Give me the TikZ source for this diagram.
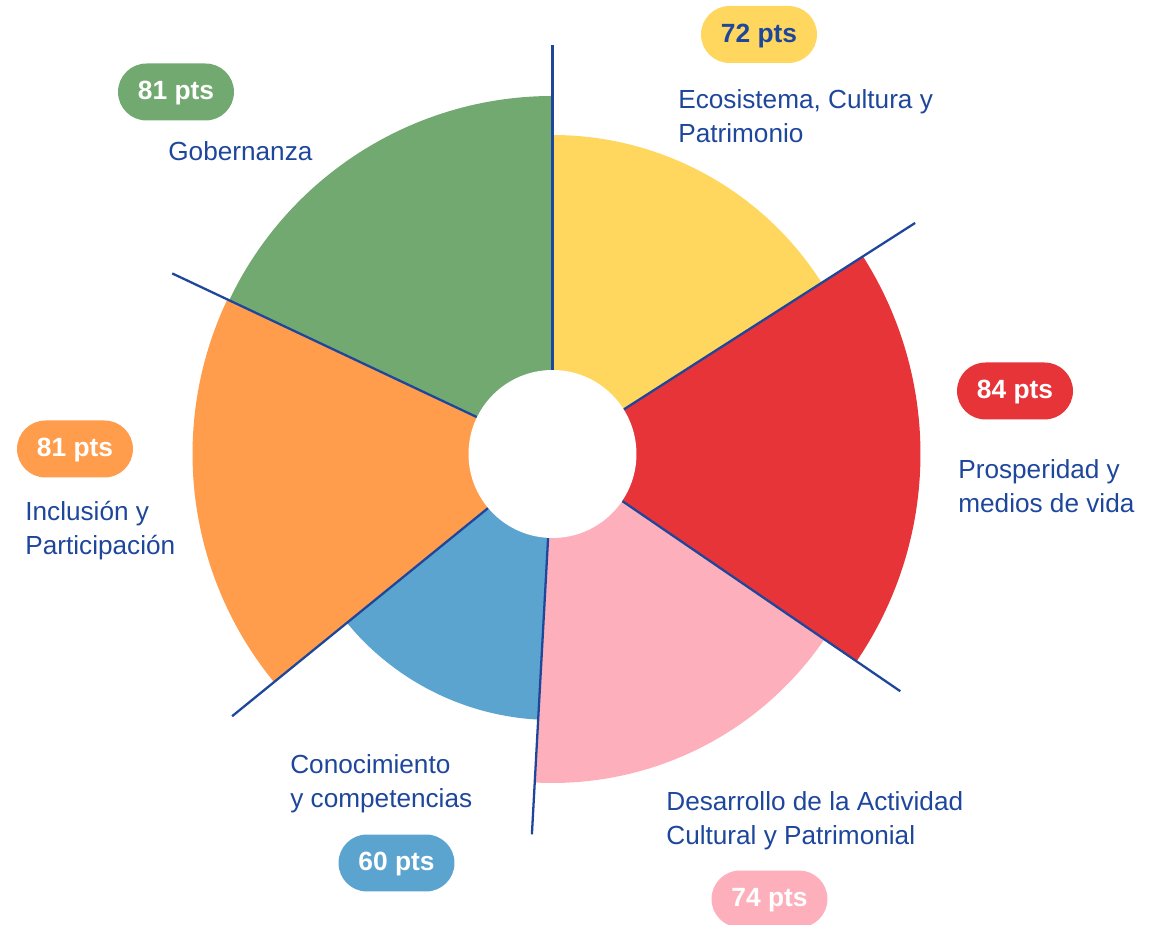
\documentclass[tikz,border=0pt]{standalone}
\usepackage{fontspec}
\setmainfont{Liberation Sans}

\definecolor{ecoyellow}{HTML}{FFD75E}
\definecolor{prored}{HTML}{E63439}
\definecolor{despink}{HTML}{FDB0BC}
\definecolor{conblue}{HTML}{5BA4CF}
\definecolor{incorange}{HTML}{FF9D4D}
\definecolor{gobgreen}{HTML}{72A970}
\definecolor{txtblue}{HTML}{1E479C}

\begin{document}
\begin{tikzpicture}[x=0.02cm, y=0.02cm,
    area/.style={anchor=base west, align=left, inner sep=0pt, text=txtblue,
      font=\fontsize{14.9}{19.9}\selectfont},
    badge/.style={rounded corners=0.57cm, minimum width=2.32cm, minimum height=1.14cm,
      inner sep=0pt, text height=0.88em, text depth=0pt, text=white,
      font=\bfseries\fontsize{15}{16}\selectfont},
    spoke/.style={txtblue, line width=1.3pt}]
    \useasboundingbox (-552.5,-471) rectangle (600.5,454);

    % sectors, radius ~ points
    \foreach \a/\b/\r/\c in {32.5/90/319/ecoyellow, -34.3/32.5/368/prored,
        -93.1/-34.3/329/despink, -140.7/-93.1/266/conblue,
        -205.4/-140.7/360/incorange, 90/154.6/358/gobgreen} {
        \fill[\c] (0,0) -- (\a:\r) arc[start angle=\a, end angle=\b, radius=\r] -- cycle;
    }

    \node[circle, fill=white, inner sep=0pt, minimum size=3.36cm] (hole) at (0,0) {};

    \foreach \a/\l in {90/409, 32.5/430, -34.3/421, -93.1/381, -140.7/414, 154.6/421} {
        \draw[spoke] (hole.\a) -- (\a:\l);
    }

    % labels (base = last line)
    \node[badge, fill=ecoyellow, text=txtblue] (eco) at (206.5,419.5) {72 pts};
    \node[area] (ecotxt) at (125.5,311) {Ecosistema, Cultura y\\Patrimonio};

    \node[badge, fill=prored] (pro) at (462.5,63) {84 pts};
    \node[area] (protxt) at (405.5,-59) {Prosperidad y\\medios de vida};

    \node[badge, fill=despink] (des) at (217,-445) {74 pts};
    \node[area] (destxt) at (113.5,-391) {Desarrollo de la Actividad\\Cultural y Patrimonial};

    \node[badge, fill=conblue] (con) at (-156,-409) {60 pts};
    \node[area] (context) at (-262.5,-354) {Conocimiento\\y competencias};

    \node[badge, fill=incorange] (inc) at (-477.5,5) {81 pts};
    \node[area] (inctxt) at (-527.5,-101) {Inclusión y\\Participación};

    \node[badge, fill=gobgreen] (gob) at (-376.5,362) {81 pts};
    \node[area] (gobtxt) at (-384.5,293) {Gobernanza};
\end{tikzpicture}
\end{document}
